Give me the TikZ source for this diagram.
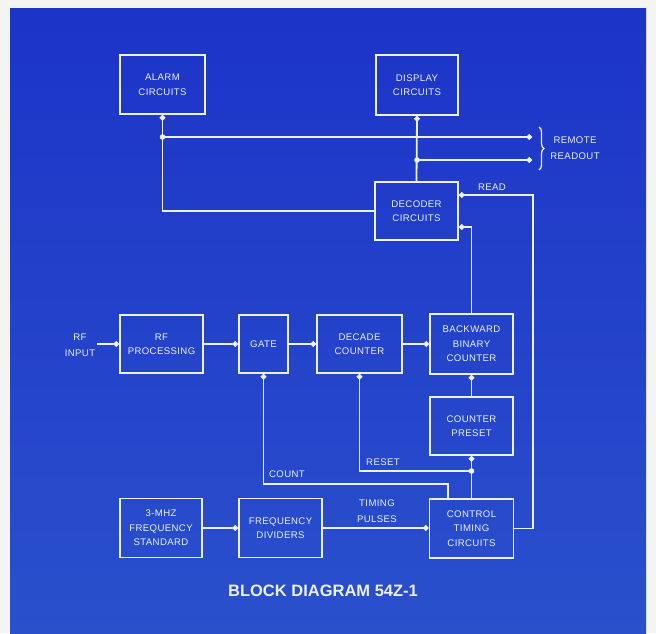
\documentclass[tikz,border=0pt]{standalone}
\usepackage{fontspec}
\setmainfont{Liberation Sans}
\newfontfamily\blkfont[LetterSpace=4]{Liberation Sans}
\usetikzlibrary{arrows.meta,decorations.pathreplacing}
\definecolor{bg}{RGB}{28,52,200}
\definecolor{bgl}{RGB}{42,80,204}
\definecolor{ln}{RGB}{236,240,255}
\definecolor{margin}{RGB}{244,244,240}
\begin{document}
\begin{tikzpicture}[x=1pt,y=-1pt,
  blk/.style={draw=ln, line width=1.8pt, text=ln, font=\blkfont\fontsize{9.6}{14.5}\selectfont, align=center, inner sep=0pt},
  wire/.style={draw=ln, line width=1.8pt},
  dot/.style={-{Circle[length=5.5pt,width=5.5pt]}},
  lbl/.style={text=ln, font=\blkfont\fontsize{9.6}{16}\selectfont, align=center, inner sep=0pt},
  jn/.style={fill=ln}
]
\fill[margin] (0,0) rectangle (656,633);
\shade[top color=bg, bottom color=bgl] (10,8) rectangle (646,633);
\useasboundingbox (0,0) rectangle (656,633);

% blocks
\node[blk, minimum width=85pt, minimum height=59pt] (alarm) at (162.5,84.5) {ALARM\\CIRCUITS};
\node[blk, minimum width=82pt, minimum height=60pt] (display) at (417,85) {DISPLAY\\CIRCUITS};
\node[blk, minimum width=83pt, minimum height=58pt] (decoder) at (416.5,211) {DECODER\\CIRCUITS};
\node[blk, minimum width=83pt, minimum height=58pt] (rfproc) at (161.5,344) {RF\\PROCESSING};
\node[blk, minimum width=49pt, minimum height=58pt] (gate) at (263.5,344) {GATE};
\node[blk, minimum width=85pt, minimum height=58pt] (decade) at (359.5,344) {DECADE\\COUNTER};
\node[blk, minimum width=83pt, minimum height=60pt] (backward) at (471.5,344) {BACKWARD\\BINARY\\COUNTER};
\node[blk, minimum width=83pt, minimum height=58pt] (preset) at (471.5,426) {COUNTER\\PRESET};
\node[blk, minimum width=82pt, minimum height=59pt] (std) at (161,528) {3-MHZ\\FREQUENCY\\STANDARD};
\node[blk, minimum width=83pt, minimum height=59pt] (div) at (280.5,528) {FREQUENCY\\DIVIDERS};
\node[blk, minimum width=84pt, minimum height=59pt] (control) at (471.5,528.5) {CONTROL\\TIMING\\CIRCUITS};

% helper coordinates
\coordinate (j1) at (162.5,137);
\coordinate (j2) at (417,160);
\coordinate (j3) at (471.5,471);
\coordinate (rr1) at (532,137);
\coordinate (rr2) at (532,160);
\coordinate (yRead) at (0,195);
\coordinate (yBack) at (0,227);
\coordinate (xRead) at (533,0);
\coordinate (rfin) at (97,344);
\coordinate (xCnt) at (448,0);
\coordinate (yCnt) at (0,484);

% connectors
\draw[wire,dot] (decoder.west) -| (alarm.south);
\draw[wire,dot] (j1) -- (rr1);
\draw[wire,dot] (decoder.north) -- (display.south);
\draw[wire,dot] (j2) -- (rr2);
\draw[wire,dot] (control.east) -- (control.east -| xRead) -- (xRead |- yRead) -- (decoder.east |- yRead);
\draw[wire,dot] (backward.north) -- (backward.north |- yBack) -- (decoder.east |- yBack);
\draw[wire,dot] (rfin) -- (rfproc.west);
\draw[wire,dot] (rfproc.east) -- (gate.west);
\draw[wire,dot] (gate.east) -- (decade.west);
\draw[wire,dot] (decade.east) -- (backward.west);
\draw[wire,dot] (preset.north) -- (backward.south);
\draw[wire,dot] (control.north) -- (preset.south);
\draw[wire,dot] (j3) -| (decade.south);
\draw[wire,dot] (control.north -| xCnt) -- (xCnt |- yCnt) -| (gate.south);
\draw[wire,dot] (std.east) -- (div.west);
\draw[wire,dot] (div.east) -- (control.west |- div.east);

\fill[jn] (j1) circle (2.8pt);
\fill[jn] (j2) circle (2.8pt);
\fill[jn] (j3) circle (2.8pt);

% brace
\draw[ln, line width=1.3pt, decorate, decoration={brace,amplitude=5pt}] (539,127) -- (539,170);

% labels
\node[lbl] (rfinl) at (80,345) {RF\\INPUT};
\node[lbl] (readl) at (492,187) {READ};
\node[lbl] (remote) at (575,148) {REMOTE\\READOUT};
\node[lbl] (resetl) at (383,462) {RESET};
\node[lbl] (countl) at (287,474) {COUNT};
\node[lbl] (timing) at (377,511) {TIMING\\PULSES};
\node[text=ln, font=\bfseries\fontsize{16.5}{20}\selectfont, inner sep=0pt] (title) at (323,591) {BLOCK DIAGRAM 54Z-1};
\end{tikzpicture}
\end{document}
